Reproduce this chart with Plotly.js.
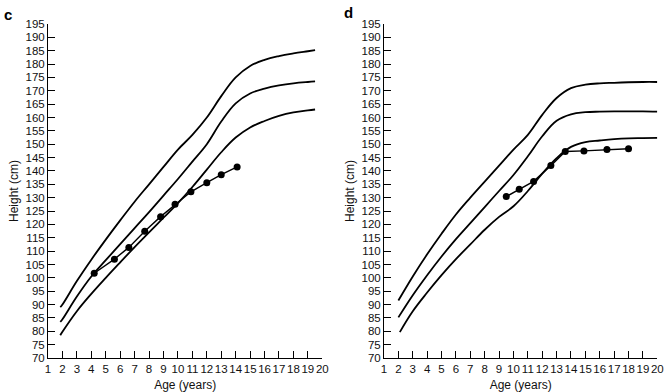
<!DOCTYPE html>
<html>
<head>
<meta charset="utf-8">
<script src="https://cdn.plot.ly/plotly-3.0.1.min.js"></script>
<style>html,body{margin:0;padding:0;background:#fff;}#chart{width:665px;height:392px;}</style>
</head>
<body>
<div id="chart"></div>
<script>
// ---- Panel c (left) ----
const cCurveAges = [1.85, 2, 3, 4, 5, 6, 7, 8, 9, 10, 11, 12, 13, 14, 15, 16, 17, 18, 19, 19.5];
const cTop    = [89.0, 90, 98.8, 106.8, 114.3, 121.5, 128.5, 135, 141.5, 148, 153.5, 160, 168, 175, 179.3, 181.6, 183, 184, 184.8, 185.2];
const cMiddle = [83.5, 84.5, 93, 100.5, 106.6, 112.6, 118.6, 124.6, 130.8, 137, 143.5, 150, 158.5, 165.3, 169, 170.8, 172, 172.8, 173.3, 173.5];
const cBottom = [78.5, 79.8, 87.5, 94, 100, 105.8, 111.5, 117, 122.5, 128, 134, 140.5, 147, 152.5, 156.3, 158.7, 160.6, 161.9, 162.7, 163];
const cPatientAges = [4.2, 5.6, 6.6, 7.7, 8.8, 9.8, 10.9, 12.0, 13.0, 14.1];
const cPatientHeights = [101.7, 107, 111.4, 117.4, 122.9, 127.5, 132.2, 135.6, 138.6, 141.5];

// ---- Panel d (right) ----
const dCurveAges = [2, 3, 4, 5, 6, 7, 8, 9, 10, 11, 12, 13, 14, 15, 16, 17, 18, 19, 20];
const dTop    = [91.5, 100.5, 108.8, 116.5, 123.7, 130, 136, 142, 148, 153.5, 161, 167.3, 171, 172.3, 172.8, 173, 173.2, 173.3, 173.3];
const dMiddle = [85.2, 93.5, 101, 108, 114.5, 120.5, 126.5, 132.5, 138.5, 145.5, 153, 158.8, 161.2, 162, 162.2, 162.3, 162.3, 162.3, 162.2];
const dBottomAges = [2.1, 3, 4, 5, 6, 7, 8, 9, 10, 11, 12, 13, 14, 15, 16, 17, 18, 19, 20];
const dBottom = [79.7, 87.5, 94.5, 101, 107, 112.5, 118, 122.8, 126.8, 132.5, 139, 144.8, 149, 150.8, 151.4, 151.9, 152.2, 152.3, 152.4];
const dPatientAges = [9.5, 10.4, 11.4, 12.6, 13.6, 14.9, 16.5, 18.0];
const dPatientHeights = [130.4, 133.2, 136.1, 142, 147.3, 147.5, 148, 148.3];

const xTickVals = [1,2,3,4,5,6,7,8,9,10,11,12,13,14,15,16,17,18,19,20];
const yTickVals = [70,75,80,85,90,95,100,105,110,115,120,125,130,135,140,145,150,155,160,165,170,175,180,185,190,195];

const FONT = 'Liberation Sans, Arial, Helvetica, sans-serif';

function curve(x, y, xa, ya) {
  return {x: x, y: y, xaxis: xa, yaxis: ya, type: 'scatter', mode: 'lines',
          line: {color: '#000', width: 1.8, shape: 'spline', smoothing: 1.1},
          hoverinfo: 'skip', showlegend: false};
}
function patient(x, y, xa, ya) {
  return {x: x, y: y, xaxis: xa, yaxis: ya, type: 'scatter', mode: 'lines+markers',
          line: {color: '#000', width: 1.4},
          marker: {color: '#000', size: 7, symbol: 'circle'},
          hoverinfo: 'skip', showlegend: false};
}

const data = [
  curve(cCurveAges, cTop, 'x', 'y'),
  curve(cCurveAges, cMiddle, 'x', 'y'),
  curve(cCurveAges, cBottom, 'x', 'y'),
  patient(cPatientAges, cPatientHeights, 'x', 'y'),
  curve(dCurveAges, dTop, 'x2', 'y2'),
  curve(dCurveAges, dMiddle, 'x2', 'y2'),
  curve(dBottomAges, dBottom, 'x2', 'y2'),
  patient(dPatientAges, dPatientHeights, 'x2', 'y2')
];

function xAxis(domain, anchor) {
  return {domain: domain, anchor: anchor, range: [1, 20], tickmode: 'array', tickvals: xTickVals,
          ticktext: xTickVals.map(String), ticks: 'inside', ticklen: 7, tickcolor: '#000', tickwidth: 1,
          tickangle: 0, automargin: false,
          showline: true, linecolor: '#000', linewidth: 1, showgrid: false, zeroline: false,
          tickfont: {family: FONT, size: 11.5, color: '#111'},
          title: {text: 'Age (years)', font: {family: FONT, size: 12, color: '#111'}, standoff: 7}};
}
function yAxis(domain, anchor) {
  return {domain: domain, anchor: anchor, range: [70, 195], tickmode: 'array', tickvals: yTickVals,
          ticktext: yTickVals.map(String), ticks: 'inside', ticklen: 7, tickcolor: '#000', tickwidth: 1,
          automargin: false,
          showline: true, linecolor: '#000', linewidth: 1, showgrid: false, zeroline: false,
          tickfont: {family: FONT, size: 11.5, color: '#111'},
          title: {text: 'Height (cm)', font: {family: FONT, size: 12, color: '#111'}, standoff: 4}};
}

const yDom = [1 - 358/392, 1 - 24/392];
const layout = {
  width: 665, height: 392,
  margin: {l: 0, r: 0, t: 0, b: 0},
  paper_bgcolor: '#fff', plot_bgcolor: '#fff',
  xaxis: xAxis([48/665, 322.3/665], 'y'),
  yaxis: yAxis(yDom, 'x'),
  xaxis2: xAxis([384/665, 657.3/665], 'y2'),
  yaxis2: yAxis(yDom, 'x2'),
  annotations: [
    {text: '<b>c</b>', xref: 'paper', yref: 'paper', x: 2/665, y: 1 - 4/392, xanchor: 'left', yanchor: 'top',
     showarrow: false, font: {family: FONT, size: 15, color: '#000'}},
    {text: '<b>d</b>', xref: 'paper', yref: 'paper', x: 342/665, y: 1 - 2/392, xanchor: 'left', yanchor: 'top',
     showarrow: false, font: {family: FONT, size: 15, color: '#000'}}
  ],
  showlegend: false
};

Plotly.newPlot('chart', data, layout, {displayModeBar: false, staticPlot: true});
</script>
</body>
</html>
